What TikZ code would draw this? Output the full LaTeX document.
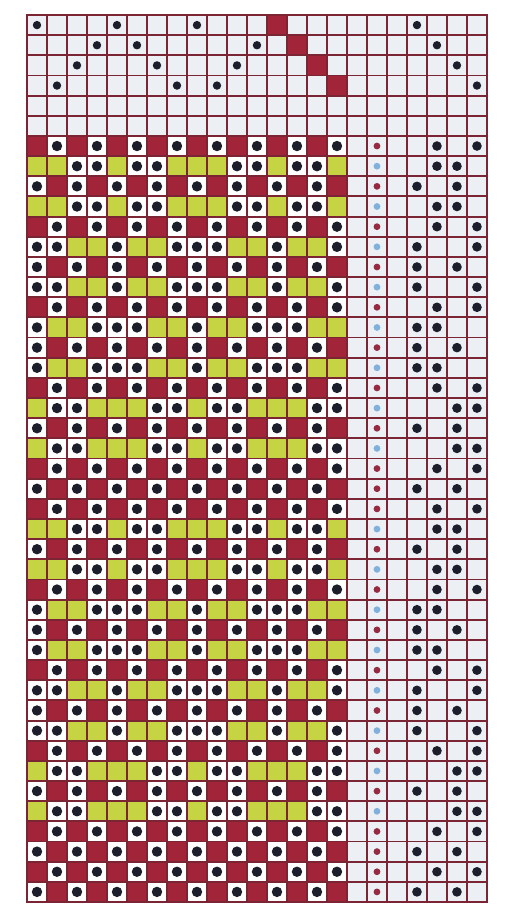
\documentclass[tikz,border=0pt]{standalone}
\usepackage{tikz}
\usepackage{xcolor}

\definecolor{paper}{RGB}{236,240,245}
\definecolor{gridred}{RGB}{122,36,52}
\definecolor{weftred}{RGB}{162,36,56}
\definecolor{weftyel}{RGB}{198,212,68}
\definecolor{ink}{RGB}{28,30,44}
\definecolor{markred}{RGB}{150,42,64}
\definecolor{markblue}{RGB}{128,176,220}

\def\threading{1,4,3,2,1,2,3,4,1,4,3,2,1,2,3,4}
\def\treadling{2/4/R,2/3/Y,1/3/R,2/3/Y,2/4/R,1/4/Y,1/3/R,1/4/Y,2/4/R,1/2/Y,%
1/3/R,1/2/Y,2/4/R,3/4/Y,1/3/R,3/4/Y,2/4/R,1/3/R,2/4/R,2/3/Y,%
1/3/R,2/3/Y,2/4/R,1/2/Y,1/3/R,1/2/Y,2/4/R,1/4/Y,1/3/R,1/4/Y,%
2/4/R,3/4/Y,1/3/R,3/4/Y,2/4/R,1/3/R,2/4/R,1/3/R}

\begin{document}
\begin{tikzpicture}[
  x=0.5cm, y=-0.504cm,
  gridline/.style={draw=gridred, line width=1.35pt},
  frameline/.style={draw=gridred, line width=1.7pt},
  bead/.style={fill=ink},
  upcell/.style={fill=white}
]
  \useasboundingbox (-1.35,-0.744) rectangle (24.5,44.1);
  \fill[paper] (0,0) rectangle (23,44);

  \foreach \s [count=\cx] in \threading {
    \ifnum\cx<13
      \fill[bead] (\cx-0.5,\s-0.5) circle[radius=1.05mm];
    \else
      \fill[weftred] (\cx-1,\s-1) rectangle (\cx,\s);
    \fi
  }
  \foreach \t in {1,...,4}
    \fill[bead] (19+\t-0.5,\t-0.5) circle[radius=1.05mm];

  \foreach \ta/\tb/\wc [count=\ry] in \treadling {
    \pgfmathtruncatemacro\rr{\ry+6}
    \if R\wc \def\fc{weftred}\def\mc{markred}\else \def\fc{weftyel}\def\mc{markblue}\fi
    \foreach \s [count=\cx] in \threading {
      \pgfmathtruncatemacro\up{or(\s==\ta,\s==\tb)}
      \ifnum\up=1
        \fill[upcell] (\cx-1,\rr-1) rectangle (\cx,\rr);
        \fill[bead] (\cx-0.5,\rr-0.5) circle[radius=1.3mm];
      \else
        \fill[fill=\fc] (\cx-1,\rr-1) rectangle (\cx,\rr);
      \fi
    }
    \fill[fill=\mc] (17.5,\rr-0.5) circle[radius=0.85mm];
    \fill[bead] (19+\ta-0.5,\rr-0.5) circle[radius=1.2mm];
    \fill[bead] (19+\tb-0.5,\rr-0.5) circle[radius=1.2mm];
  }

  \foreach \i in {0,...,23} \draw[gridline] (\i,0) -- (\i,44);
  \foreach \j in {0,...,44} \draw[gridline] (0,\j) -- (23,\j);
  \draw[frameline] (0,0) rectangle (23,44);
\end{tikzpicture}
\end{document}
